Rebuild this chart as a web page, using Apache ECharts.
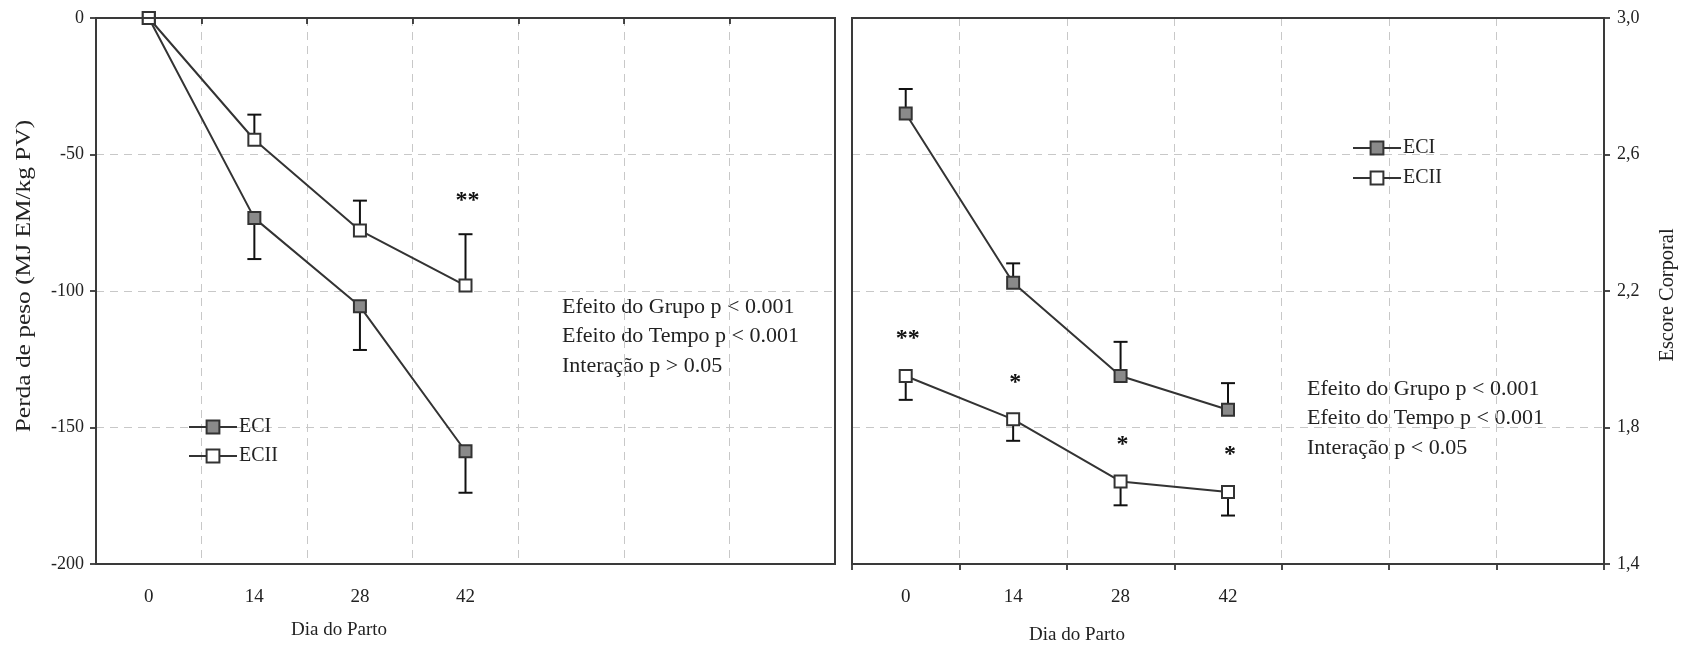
<!DOCTYPE html>
<html>
<head>
<meta charset="utf-8">
<script src="https://cdn.jsdelivr.net/npm/echarts@6/dist/echarts.min.js"></script>
<style>
html, body { margin: 0; padding: 0; background: #fff; }
#chart { width: 1683px; height: 650px; }
</style>
</head>
<body>
<div id="chart"></div>
<script>
const days = ['0', '14', '28', '42', '', '', '']

// perda de peso (MJ EM/kg PV)
const lossECI = [0, -73.3, -105.6, -158.7]
const lossECIErr = [0, 15, 16, 15.2]
const lossECII = [0, -44.6, -77.8, -98.0]
const lossECIIErr = [0, 9.2, 10.9, 18.8]
const lossSig = ['', '', '', '**']
const lossStats = ['Efeito do Grupo p < 0.001', 'Efeito do Tempo p < 0.001', 'Interação p > 0.05']

// escore corporal
const scoreECI = [2.72, 2.224, 1.951, 1.852]
const scoreECIErr = [0.072, 0.057, 0.1, 0.078]
const scoreECII = [1.951, 1.824, 1.642, 1.611]
const scoreECIIErr = [0.07, 0.063, 0.07, 0.069]
const scoreSig = ['**', '*', '*', '*']
const scoreStats = ['Efeito do Grupo p < 0.001', 'Efeito do Tempo p < 0.001', 'Interação p < 0.05']

const FONT = 'Liberation Serif'
const INK = '#222'
const grids = [
	{ left: 96, top: 18, width: 739, height: 546 },
	{ left: 852, top: 18, width: 752, height: 546 }
]

const chart = echarts.init(document.getElementById('chart'))

const xAxisFor = (gridIndex) => ({
	type: 'category',
	gridIndex,
	data: days,
	boundaryGap: true,
	axisLine: { lineStyle: { color: '#111', width: 2 } },
	axisTick: { show: true, length: 6, lineStyle: { color: '#111', width: 1.5 } },
	axisLabel: { fontFamily: FONT, fontSize: 19, color: INK, margin: 24, interval: 0 },
	splitLine: { show: true, interval: 0, lineStyle: { color: '#c8c8c8', type: [8, 6], width: 1 } }
})

const lineSeries = (name, data, fill, xi) => ({
	name,
	type: 'line',
	xAxisIndex: xi,
	yAxisIndex: xi,
	data,
	z: 3,
	symbol: 'rect',
	symbolSize: 12,
	lineStyle: { color: '#333', width: 2 },
	itemStyle: { color: fill, borderColor: '#333', borderWidth: 2 },
	emphasis: { disabled: true }
})

// barras de erro (+ asteriscos de significancia)
const errorBars = (xi, values, errs, dir, sig, sigGap) => ({
	type: 'custom',
	xAxisIndex: xi,
	yAxisIndex: xi,
	z: 2,
	silent: true,
	data: values.map((v, i) => [i, v, v + dir * errs[i]]),
	renderItem: (params, api) => {
		const p = api.coord([api.value(0), api.value(1)])
		const e = api.coord([api.value(0), api.value(2)])
		const children = []
		if (errs[params.dataIndex] > 0) {
			children.push({ type: 'line', shape: { x1: p[0], y1: p[1], x2: e[0], y2: e[1] }, style: { stroke: '#111', lineWidth: 2 } })
			children.push({ type: 'line', shape: { x1: e[0] - 7, y1: e[1], x2: e[0] + 7, y2: e[1] }, style: { stroke: '#111', lineWidth: 2 } })
		}
		const s = sig ? sig[params.dataIndex] : ''
		if (s) {
			children.push({
				type: 'text',
				style: {
					text: s, x: p[0] + 2, y: Math.min(p[1], e[1]) - sigGap,
					fontFamily: FONT, fontSize: 24, fontWeight: 'bold', fill: '#111',
					align: 'center', verticalAlign: 'middle'
				}
			})
		}
		return { type: 'group', children }
	}
})

const statsText = (lines, left, top) => ({
	type: 'text',
	left, top,
	style: { text: lines.join('\n'), fontFamily: FONT, fontSize: 22, lineHeight: 29.5, fill: INK }
})

const axisName = (text, x, y, stretch) => ({
	type: 'text',
	x, y,
	rotation: Math.PI / 2,
	scaleX: stretch,
	style: { text, fontFamily: FONT, fontSize: 20, fill: INK, align: 'center', verticalAlign: 'middle' }
})

const frame = (g) => ({
	type: 'rect',
	z: 50,
	silent: true,
	shape: { x: g.left, y: g.top, width: g.width, height: g.height },
	style: { fill: null, stroke: '#3a3a3a', lineWidth: 2 }
})

const legendFor = (left, top, gap) => ({
	data: ['ECI', 'ECII'], orient: 'vertical', left, top,
	padding: 0,
	itemWidth: 48, itemHeight: 16, itemGap: gap,
	lineStyle: { width: 2, color: '#333' },
	textStyle: { fontFamily: FONT, fontSize: 20, color: INK, padding: [0, 0, 0, -3] },
	selectedMode: false
})

const option = {
	animation: false,
	grid: grids,
	xAxis: [xAxisFor(0), xAxisFor(1)],
	yAxis: [
		{
			type: 'value', gridIndex: 0, min: -200, max: 0, interval: 50,
			axisLine: { show: true, lineStyle: { color: '#111', width: 2 } },
			axisTick: { show: true, length: 6, lineStyle: { color: '#111', width: 1.5 } },
			axisLabel: { fontFamily: FONT, fontSize: 18, color: INK, margin: 12 },
			splitLine: { lineStyle: { color: '#c8c8c8', type: [8, 6], width: 1 } }
		},
		{
			type: 'value', gridIndex: 1, position: 'right', min: 1.4, max: 3.0, interval: 0.4,
			axisLine: { show: true, lineStyle: { color: '#111', width: 2 } },
			axisTick: { show: true, length: 6, lineStyle: { color: '#111', width: 1.5 } },
			axisLabel: { fontFamily: FONT, fontSize: 18, color: INK, margin: 13, formatter: (v) => v.toFixed(1).replace('.', ',') },
			splitLine: { lineStyle: { color: '#c8c8c8', type: [8, 6], width: 1 } }
		}
	],
	legend: [legendFor(188, 417, 9), legendFor(1352, 138, 10)],
	graphic: [
		frame(grids[0]),
		frame(grids[1]),
		statsText(lossStats, 562, 292),
		statsText(scoreStats, 1307, 374),
		axisName('Perda de peso (MJ EM/kg PV)', 25, 276, 1.27),
		axisName('Escore Corporal', 1668, 295, 1.02),
		{ type: 'text', left: 291, top: 621, style: { text: 'Dia do Parto', fontFamily: FONT, fontSize: 19, fill: INK } },
		{ type: 'text', left: 1029, top: 626, style: { text: 'Dia do Parto', fontFamily: FONT, fontSize: 19, fill: INK } }
	],
	series: [
		errorBars(0, lossECI, lossECIErr, -1),
		errorBars(0, lossECII, lossECIIErr, 1, lossSig, 33),
		lineSeries('ECI', lossECI, '#8a8a8a', 0),
		lineSeries('ECII', lossECII, '#ffffff', 0),
		errorBars(1, scoreECI, scoreECIErr, 1),
		errorBars(1, scoreECII, scoreECIIErr, -1, scoreSig, 37),
		lineSeries('ECI', scoreECI, '#8a8a8a', 1),
		lineSeries('ECII', scoreECII, '#ffffff', 1)
	]
}

chart.setOption(option)
</script>
</body>
</html>
